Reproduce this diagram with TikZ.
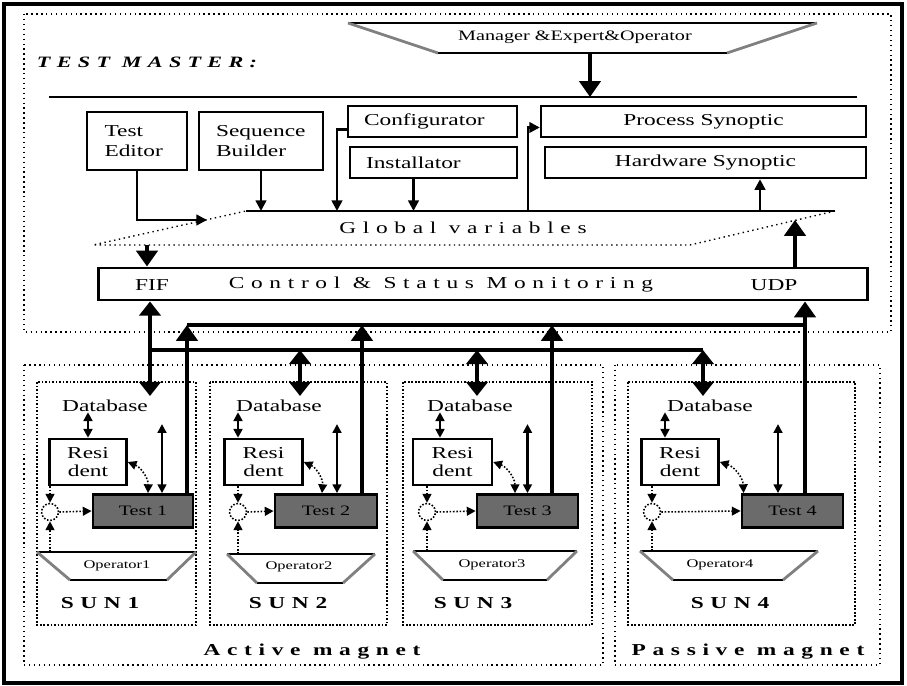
\documentclass[tikz,border=0pt]{standalone}
\usepackage{fontspec}
\setmainfont{Liberation Serif}[FakeStretch=1.4]
\newfontfamily\spacedfont{Liberation Serif}[FakeStretch=1.4,LetterSpace=40]
\usetikzlibrary{arrows.meta}

\begin{document}
\begin{tikzpicture}[x=0.02cm, y=-0.02cm,
    tmbox/.style={draw, line width=1.4pt, inner sep=0pt, font=\fontsize{9.5}{11}\selectfont},
    testbox/.style={draw, line width=1.6pt, fill=black!58, inner sep=0pt, minimum width=2cm, minimum height=0.66cm, font=\fontsize{8.2}{10}\selectfont},
    resbox/.style={draw, line width=1.4pt, inner sep=0pt, minimum width=1.54cm, minimum height=0.92cm, align=center, font=\fontsize{9.5}{9.8}\selectfont},
    choice/.style={circle, draw, densely dotted, line width=0.9pt, minimum size=0.34cm, inner sep=0pt},
    sunbox/.style={densely dotted, line width=1pt},
    magnetbox/.style={dotted, line width=0.8pt},
    optop/.style={line width=1.4pt},
    opside/.style={line width=1.6pt, gray},
    bigarrow/.style={line width=2.6pt, -{Triangle[width=12pt,length=9pt]}},
    bigdouble/.style={line width=2.8pt, {Triangle[width=12pt,length=8pt]}-{Triangle[width=12pt,length=8pt]}},
    midarrow/.style={line width=1.4pt, -{Triangle[width=6pt,length=6pt]}},
    thinboth/.style={line width=1.3pt, {Triangle[width=5pt,length=5pt]}-{Triangle[width=5pt,length=5pt]}},
    dotarrow/.style={densely dotted, line width=0.9pt, -{Triangle[width=5pt,length=5pt]}},
    dotboth/.style={densely dotted, line width=0.9pt, {Triangle[width=5pt,length=5pt]}-{Triangle[width=5pt,length=5pt]}},
    bus/.style={line width=2.3pt},
    txt/.style={inner sep=0pt, font=\fontsize{9.5}{11}\selectfont},
    optxt/.style={inner sep=0pt, font=\fontsize{6.7}{8}\selectfont},
    spaced/.style={inner sep=0pt, font=\fontsize{9.5}{11}\spacedfont},
    spacedbold/.style={inner sep=0pt, font=\fontsize{9.5}{11}\spacedfont\bfseries},
]
    \useasboundingbox (0,0) rectangle (907,686);

    % Kader en test master
    \draw[line width=1.8pt] (4,4) rectangle (902,683);
    \draw[magnetbox] (24,14) rectangle (891,332);
    \node[inner sep=0pt, font=\fontsize{9}{11}\spacedfont\bfseries\itshape] (tm) at (147,62) {TEST MASTER:};

    % Manager trapezium
    \draw[optop] (348,23) -- (817,23);
    \draw[optop] (438,53) -- (727,53);
    \draw[opside] (348,23) -- (438,53);
    \draw[opside] (817,23) -- (727,53);
    \node[inner sep=0pt, font=\fontsize{8.2}{10}\selectfont] (mgr) at (575,37) {Manager \&Expert\&Operator};

    % Lijn onder de manager
    \coordinate (hlL) at (49,97);
    \coordinate (hlR) at (857,97);
    \coordinate (mgrB) at (590,53);
    \draw[line width=1.5pt] (hlL) -- (hlR);
    \draw[bigarrow, line width=2pt] (mgrB) -- (mgrB |- hlL);

    % Blokken van de test master
    \node[tmbox, minimum width=2cm, minimum height=1.16cm, text width=1.3cm, align=left] (ted) at (137,141) {Test\\Editor};
    \node[tmbox, minimum width=2.48cm, minimum height=1.16cm, text width=1.8cm, align=left] (seq) at (261,141) {Sequence\\Builder};
    \node[tmbox, minimum width=3.38cm, minimum height=0.62cm, text width=2.74cm, align=left] (conf) at (432.5,121.5) {Configurator};
    \node[tmbox, minimum width=3.34cm, minimum height=0.62cm, text width=2.7cm, align=left] (inst) at (433.5,162.5) {Installator};
    \node[tmbox, minimum width=6.5cm, minimum height=0.62cm] (proc) at (703.5,121.5) {Process Synoptic};
    \node[tmbox, minimum width=6.42cm, minimum height=0.62cm] (hw) at (705.5,162.5) {Hardware Synoptic};

    % Global variables (parallellogram)
    \coordinate (gvA) at (93,245);
    \coordinate (gvB) at (246,211);
    \coordinate (gvC) at (835,211);
    \coordinate (gvD) at (690,245);
    \draw[line width=0.8pt] (gvB) -- (gvC);
    \draw[dotted, line width=0.8pt] (gvC) -- (gvD) -- (gvA) -- (gvB);
    \node[spaced] (gv) at (463,228) {Global variables};

    % Pijlen naar en van global variables
    \coordinate (gvTE) at (207,220);
    \coordinate (gvConf) at (337,211);
    \coordinate (gvProc) at (528,211);
    \coordinate (gvHw) at (760,211);
    \draw[midarrow] (ted.south) |- (gvTE);
    \draw[midarrow] (seq.south) -- (seq.south |- gvB);
    \draw[midarrow] ([yshift=-0.16cm]conf.west) -| (gvConf);
    \draw[midarrow] ([xshift=-0.4cm]inst.south) -- ([xshift=-0.4cm]inst.south |- gvB);
    \draw[midarrow] (gvProc) |- ([yshift=-0.12cm]proc.west);
    \draw[midarrow] (gvHw) -- (gvHw |- hw.south);

    % Control & Status Monitoring
    \node[draw, line width=1.7pt, minimum width=15.4cm, minimum height=0.64cm] (ctrl) at (483,284) {};
    \node[txt] (fif) at (152,285) {FIF};
    \node[spaced] (csm) at (441,285) {Control \& Status Monitoring};
    \node[txt] (udp) at (774,285) {UDP};
    \coordinate (gvDown) at (147,245);
    \coordinate (gvUp) at (795,220);
    \draw[bigarrow] (gvDown) -- (gvDown |- ctrl.north);
    \draw[bigarrow] (gvUp |- ctrl.north) -- (gvUp);

    % Active en passive magnet
    \draw[magnetbox] (24,365) rectangle (603,665);
    \draw[magnetbox] (615,365) rectangle (880,665);
    \node[spacedbold] (act) at (312,652) {Active magnet};
    \node[spacedbold] (pas) at (748,652) {Passive magnet};

    % SUN kaders
    \draw[sunbox] (37,382) rectangle (196,625);
    \draw[sunbox] (210,382) rectangle (387,625);
    \draw[sunbox] (403,382) rectangle (592,625);
    \draw[sunbox] (628,382) rectangle (855,625);

    % SUN1
    \node[txt] (db1) at (105,406) {Database};
    \node[resbox] (r1) at (88,462) {Resi\\dent};
    \node[testbox] (t1) at (143,511) {Test 1};
    \node[choice] (c1) at (50,512) {};
    \coordinate (o1) at (37,552);
    \draw[optop] (o1) -- (196,552);
    \draw[optop] (70,580) -- (167,580);
    \draw[opside] (o1) -- (70,580);
    \draw[opside] (196,552) -- (167,580);
    \node[optxt] (op1) at (117,566) {Operator1};
    \node[spacedbold] (sun1) at (100,603) {SUN1};
    \draw[thinboth] (r1.north) -- (r1.north |- db1.south);
    \draw[thinboth] ([xshift=0.38cm]t1.north) -- ++(0,-69);
    \draw[dotboth] (r1.east) to[bend left=35] ([xshift=0.1cm]t1.north);
    \draw[dotarrow] (c1 |- r1.south) -- (c1.north);
    \draw[dotarrow] (c1 |- o1) -- (c1.south);
    \draw[dotarrow] (c1.east) -- (t1.west);

    % SUN2
    \node[txt] (db2) at (279,406) {Database};
    \node[resbox, minimum width=1.56cm] (r2) at (263.5,462) {Resi\\dent};
    \node[testbox, minimum width=2.04cm] (t2) at (326,511) {Test 2};
    \node[choice] (c2) at (238,512) {};
    \coordinate (o2) at (227,554);
    \draw[optop] (o2) -- (375,554);
    \draw[optop] (257,583) -- (343,583);
    \draw[opside] (o2) -- (257,583);
    \draw[opside] (375,554) -- (343,583);
    \node[optxt] (op2) at (299,567) {Operator2};
    \node[spacedbold] (sun2) at (288,603) {SUN2};
    \draw[thinboth] ([xshift=-0.51cm]r2.north) -- ([xshift=-0.51cm]r2.north |- db2.south);
    \draw[thinboth] ([xshift=0.22cm]t2.north) -- ++(0,-69);
    \draw[dotboth] (r2.east) to[bend left=35] ([xshift=-0.08cm]t2.north);
    \draw[dotarrow] (c2 |- r2.south) -- (c2.north);
    \draw[dotarrow] (c2 |- o2) -- (c2.south);
    \draw[dotarrow] (c2.east) -- (t2.west);

    % SUN3
    \node[txt] (db3) at (470,406) {Database};
    \node[resbox, minimum width=1.58cm] (r3) at (452.5,462) {Resi\\dent};
    \node[testbox, minimum width=2.02cm] (t3) at (527.5,511) {Test 3};
    \node[choice] (c3) at (427,512) {};
    \coordinate (o3) at (413,551);
    \draw[optop] (o3) -- (577,551);
    \draw[optop] (443,580) -- (547,580);
    \draw[opside] (o3) -- (443,580);
    \draw[opside] (577,551) -- (547,580);
    \node[optxt] (op3) at (492,565) {Operator3};
    \node[spacedbold] (sun3) at (473,603) {SUN3};
    \draw[thinboth] ([xshift=-0.25cm]r3.north) -- ([xshift=-0.25cm]r3.north |- db3.south);
    \draw[thinboth] (t3.north) -- ++(0,-69);
    \draw[dotboth] (r3.east) to[bend left=35] ([xshift=-0.25cm]t3.north);
    \draw[dotarrow] (c3 |- r3.south) -- (c3.north);
    \draw[dotarrow] (c3 |- o3) -- (c3.south);
    \draw[dotarrow] (c3.east) -- (t3.west);

    % SUN4
    \node[txt] (db4) at (710,406) {Database};
    \node[resbox] (r4) at (680,462) {Resi\\dent};
    \node[testbox, minimum width=2.02cm] (t4) at (792.5,511) {Test 4};
    \node[choice] (c4) at (652,512) {};
    \coordinate (o4) at (640,551);
    \draw[optop] (o4) -- (818,551);
    \draw[optop] (673,580) -- (783,580);
    \draw[opside] (o4) -- (673,580);
    \draw[opside] (818,551) -- (783,580);
    \node[optxt] (op4) at (720,565) {Operator4};
    \node[spacedbold] (sun4) at (730,603) {SUN4};
    \draw[thinboth] ([xshift=-0.3cm]r4.north) -- ([xshift=-0.3cm]r4.north |- db4.south);
    \draw[thinboth] ([xshift=-0.29cm]t4.north) -- ++(0,-69);
    \draw[dotboth] (r4.east) to[bend left=35] ([xshift=0.06cm]t4.north west);
    \draw[dotarrow] (c4 |- r4.south) -- (c4.north);
    \draw[dotarrow] (c4 |- o4) -- (c4.south);
    \draw[dotarrow] (c4.east) -- (t4.west);

    % UDP bus naar control
    \coordinate (busU) at (187,325);
    \coordinate (busUe) at (805,325);
    \draw[bus] (busU) -- (busUe);
    \draw[bigarrow] ([xshift=0.88cm]t1.north) -- ([xshift=0.88cm]t1.north |- busU);
    \draw[bigarrow] ([xshift=0.72cm]t2.north) -- ([xshift=0.72cm]t2.north |- busU);
    \draw[bigarrow] ([xshift=0.49cm]t3.north) -- ([xshift=0.49cm]t3.north |- busU);
    \draw[bigarrow] ([xshift=0.25cm]t4.north) -- ([xshift=0.25cm]t4.north |- ctrl.south);

    % FIF bus naar de databases
    \coordinate (busF) at (150,350);
    \coordinate (busFe) at (703,350);
    \coordinate (fifEnd) at (150,396);
    \coordinate (s2in) at (300,396);
    \coordinate (s3in) at (477,396);
    \coordinate (s4in) at (703,396);
    \draw[bus] (busF) -- (busFe);
    \draw[bigdouble] (fifEnd |- ctrl.south) -- (fifEnd);
    \draw[bigdouble] (s2in |- busF) -- (s2in);
    \draw[bigdouble] (s3in |- busF) -- (s3in);
    \draw[bigdouble] (s4in |- busF) -- (s4in);

\end{tikzpicture}
\end{document}
